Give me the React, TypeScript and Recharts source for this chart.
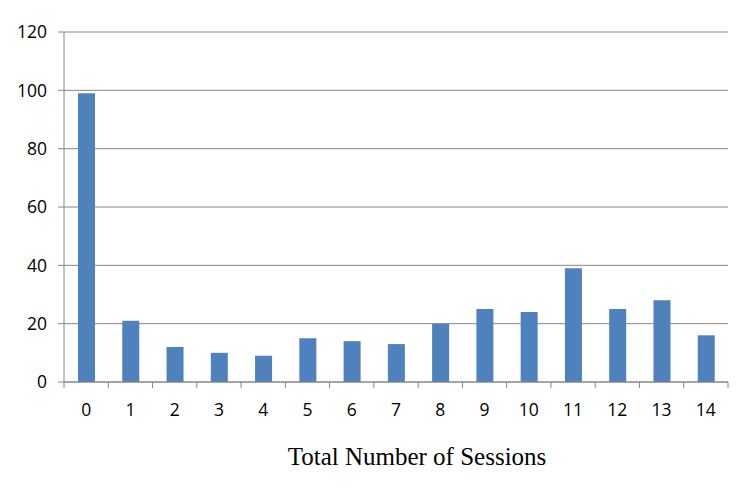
import { BarChart, Bar, XAxis, YAxis, CartesianGrid } from 'recharts';

const sessions = ['0', '1', '2', '3', '4', '5', '6', '7', '8', '9', '10', '11', '12', '13', '14'];
const counts = [99, 21, 12, 10, 9, 15, 14, 13, 20, 25, 24, 39, 25, 28, 16];
const yTicks = [0, 20, 40, 60, 80, 100, 120];

const data = sessions.map((s, i) => ({ name: s, count: counts[i] }));

const AXIS = '#868686';
const TICK_FONT = '"Open Sans", "Noto Sans", sans-serif';

function SessionTick(props: any) {
  const { x, y, payload, index } = props;
  const half = payload?.offset ?? 0;
  const last = index === sessions.length - 1;
  return (
    <g>
      <line x1={x - half} x2={x - half} y1={y} y2={y + 6} stroke={AXIS} />
      {last && <line x1={x + half} x2={x + half} y1={y} y2={y + 6} stroke={AXIS} />}
      <text x={x} y={y + 34} textAnchor="middle" fill="#000" fontSize={17.5} fontFamily={TICK_FONT}>
        {payload.value}
      </text>
    </g>
  );
}

function TitleLabel(props: any) {
  const { viewBox } = props;
  return (
    <text
      x={viewBox.x + viewBox.width / 2 + 21}
      y={viewBox.y + 83}
      textAnchor="middle"
      fill="#000"
      fontSize={25}
      fontFamily='"Liberation Serif", "Times New Roman", serif'
    >
      Total Number of Sessions
    </text>
  );
}

export default function App() {
  return (
    <div style={{ position: 'absolute', left: 0, top: 0, width: 750, height: 491, background: '#fff' }}>
      <BarChart
        width={750}
        height={491}
        data={data}
        margin={{ top: 32, right: 22, left: 0, bottom: 29 }}
      >
        <CartesianGrid vertical={false} stroke={AXIS} />
        <XAxis
          dataKey="name"
          height={80}
          stroke={AXIS}
          tickSize={0}
          tickMargin={0}
          tick={<SessionTick />}
          interval={0}
          label={<TitleLabel />}
        />
        <YAxis
          width={64}
          domain={[0, 120]}
          ticks={yTicks}
          stroke={AXIS}
          tickSize={6}
          tickMargin={11}
          tick={{ fill: '#000', fontSize: 17.5, fontFamily: TICK_FONT }}
        />
        <Bar dataKey="count" fill="#4f81bd" barSize={17} isAnimationActive={false} />
      </BarChart>
    </div>
  );
}
